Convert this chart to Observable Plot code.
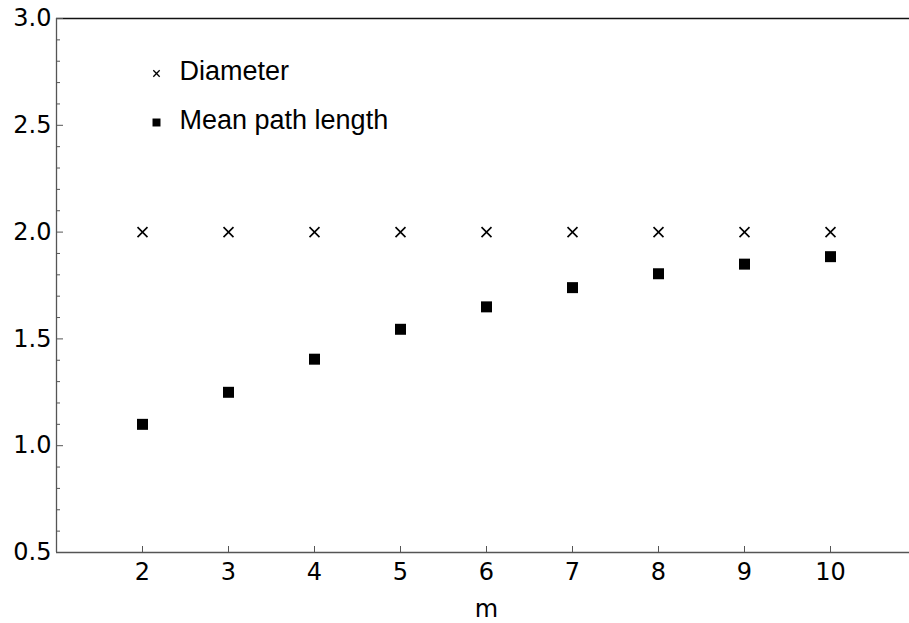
<!DOCTYPE html>
<html>
<head>
<meta charset="utf-8">
<script src="https://cdn.jsdelivr.net/npm/d3@7"></script>
<script src="https://cdn.jsdelivr.net/npm/@observablehq/plot@0.6"></script>
<style>
  html, body { margin: 0; padding: 0; background: #fff; }
  #chart { width: 909px; height: 623px; overflow: hidden; }
  #chart svg { display: block; max-width: none !important; width: 916px !important; height: 623px !important; }
</style>
</head>
<body>
<div id="chart"></div>
<script>
const mValues = [2, 3, 4, 5, 6, 7, 8, 9, 10];
const diameter = [2, 2, 2, 2, 2, 2, 2, 2, 2];
const meanPathLength = [1.10, 1.25, 1.405, 1.545, 1.65, 1.74, 1.805, 1.85, 1.885];
const yMajorTicks = [0.5, 1.0, 1.5, 2.0, 2.5, 3.0];
const yMinorTicks = d3.range(5, 31).map(d => d / 10).filter(d => Math.abs(d * 2 - Math.round(d * 2)) > 1e-6);
const xTicks = [2, 3, 4, 5, 6, 7, 8, 9, 10];
const legendLabels = ["Diameter", "Mean path length"];

const diamData = mValues.map((m, i) => ({m, v: diameter[i]}));
const meanData = mValues.map((m, i) => ({m, v: meanPathLength[i]}));

const tickFont = "DejaVu Sans, Verdana, sans-serif";

const chart = Plot.plot({
  width: 916,
  height: 623,
  marginLeft: 56,
  marginRight: 0,
  marginTop: 18,
  marginBottom: 71,
  style: {fontFamily: tickFont, fontSize: "24px", color: "#000", background: "#fff", overflow: "visible"},
  x: {domain: [1, 11]},
  y: {domain: [0.5, 3.0]},
  marks: [
    Plot.ruleY([3.0], {stroke: "#111", strokeWidth: 1.6}),
    Plot.ruleY([0.5], {stroke: "#555", strokeWidth: 1.3}),
    Plot.ruleX([1], {stroke: "#555", strokeWidth: 1.3}),
    Plot.axisY({ticks: yMajorTicks, tickSize: -7, tickPadding: 12, tickFormat: d3.format(".1f"), stroke: "#555", label: null, fontSize: 24, fill: "#000"}),
    Plot.axisY({ticks: yMinorTicks, tickSize: -4, tickFormat: () => "", stroke: "#555", label: null}),
    Plot.axisX({ticks: xTicks, tickSize: -6, tickPadding: 16, stroke: "#555", label: null, fontSize: 24, fill: "#000"}),
    Plot.text(["m"], {frameAnchor: "bottom", dy: 64, fontSize: 24, fill: "#000"}),
    Plot.dot(diamData, {x: "m", y: "v", symbol: "times", r: 4.6, stroke: "#000", strokeWidth: 1.6}),
    Plot.dot(meanData, {x: "m", y: "v", symbol: "square", r: 6.2, fill: "#000", stroke: "none"}),
    // legend
    Plot.dot([legendLabels[0]], {frameAnchor: "top-left", dx: 100, dy: 55, symbol: "times", r: 3, stroke: "#000", strokeWidth: 1.3}),
    Plot.dot([legendLabels[1]], {frameAnchor: "top-left", dx: 100, dy: 104, symbol: "square", r: 4.5, fill: "#000", stroke: "none"}),
    Plot.text([legendLabels[0]], {text: d => d, frameAnchor: "top-left", dx: 123, dy: 53, textAnchor: "start", lineAnchor: "middle", fontSize: 27, fontFamily: "Liberation Sans, Arial, sans-serif", fill: "#000"}),
    Plot.text([legendLabels[1]], {text: d => d, frameAnchor: "top-left", dx: 123, dy: 102, textAnchor: "start", lineAnchor: "middle", fontSize: 27, fontFamily: "Liberation Sans, Arial, sans-serif", fill: "#000"})
  ]
});
document.getElementById("chart").appendChild(chart);
</script>
</body>
</html>
